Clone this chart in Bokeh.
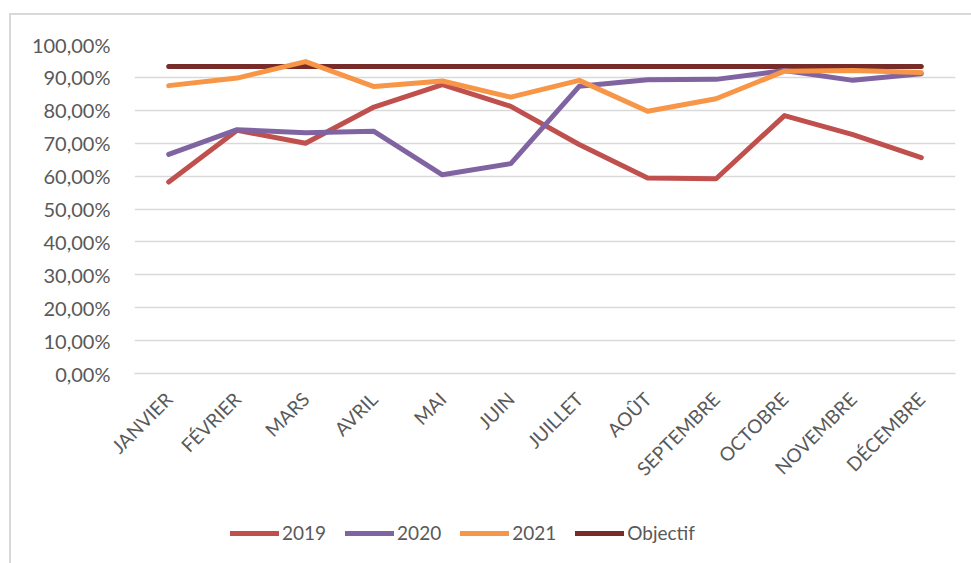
from bokeh.plotting import figure
from bokeh.models import FactorRange, Range1d, FixedTicker, Legend, LegendItem
from bokeh.layouts import column
from bokeh.embed import file_html
from bokeh.resources import INLINE
import math

months = ["JANVIER", "FÉVRIER", "MARS", "AVRIL", "MAI", "JUIN", "JUILLET",
          "AOÛT", "SEPTEMBRE", "OCTOBRE", "NOVEMBRE", "DÉCEMBRE"]
s2019 = [0.582, 0.739, 0.700, 0.810, 0.878, 0.812, 0.696, 0.594, 0.592, 0.784, 0.726, 0.656]
s2020 = [0.666, 0.741, 0.732, 0.736, 0.604, 0.638, 0.873, 0.893, 0.894, 0.921, 0.891, 0.911]
s2021 = [0.875, 0.898, 0.948, 0.872, 0.889, 0.840, 0.891, 0.797, 0.835, 0.919, 0.921, 0.915]
objectif = [0.933] * 12
series_names = ["2019", "2020", "2021", "Objectif"]
series_colors = ["#c0504d", "#8064a2", "#f79646", "#772c2a"]
y_ticks = [0.0, 0.1, 0.2, 0.3, 0.4, 0.5, 0.6, 0.7, 0.8, 0.9, 1.0]
y_labels = ["0,00%", "10,00%", "20,00%", "30,00%", "40,00%", "50,00%",
            "60,00%", "70,00%", "80,00%", "90,00%", "100,00%"]

FONT = "Lato"
TXT = "#595959"
LW = 5

p = figure(x_range=FactorRange(*months, range_padding=0), y_range=Range1d(0, 1),
           frame_width=821, frame_height=329, output_backend="svg", toolbar_location=None,
           min_border_left=123, min_border_right=16, min_border_top=29, min_border_bottom=130)
p.outline_line_color = None
p.background_fill_color = "white"
p.border_fill_color = "white"

p.xgrid.grid_line_color = None
p.ygrid.grid_line_color = "#d9d9d9"
p.ygrid.grid_line_width = 1.5
p.yaxis.ticker = FixedTicker(ticks=y_ticks)
p.yaxis.major_label_overrides = {t: l for t, l in zip(y_ticks, y_labels)}

for ax in (p.xaxis[0], p.yaxis[0]):
    ax.major_tick_line_color = None
    ax.minor_tick_line_color = None
    ax.major_tick_out = 0
    ax.major_label_text_font = FONT
    ax.major_label_text_color = TXT
p.yaxis.major_label_text_font_size = "20px"
p.xaxis.major_label_text_font_size = "19px"
p.yaxis.axis_line_color = None
p.yaxis.major_label_standoff = 24
p.xaxis.axis_line_color = "#d9d9d9"
p.xaxis.axis_line_width = 1.5
p.xaxis.major_label_orientation = math.pi / 4
p.xaxis.major_label_standoff = 22

data = {"2019": s2019, "2020": s2020, "2021": s2021, "Objectif": objectif}
for name in ["Objectif", "2019", "2020", "2021"]:
    color = series_colors[series_names.index(name)]
    p.line(months, data[name], line_color=color, line_width=LW,
           line_cap="round", line_join="round")

# legend strip below the chart (its series lie outside its visible y range)
pl = figure(width=960, height=60, x_range=FactorRange(*months, range_padding=0),
            y_range=Range1d(5, 6), output_backend="svg", toolbar_location=None, min_border=0)
pl.outline_line_color = None
pl.axis.visible = False
pl.grid.visible = False
items = []
for name, color in zip(series_names, series_colors):
    r = pl.line(months, data[name], line_color=color, line_width=LW, line_cap="round")
    items.append(LegendItem(label=name, renderers=[r]))
legend = Legend(items=items, orientation="horizontal", location=(96, 19),
                padding=0, margin=0, spacing=19, glyph_width=49, glyph_height=20,
                label_standoff=3, label_text_font=FONT, label_text_font_size="19px",
                label_text_color=TXT, border_line_alpha=0, background_fill_alpha=0)
pl.add_layout(legend, "center")

layout = column(p, pl, spacing=0, margin=(13, 0, 0, 9),
                styles={"border-top": "2px solid #d9d9d9", "border-left": "2px solid #d9d9d9"})

open("out.html", "w").write(file_html(layout, INLINE))
